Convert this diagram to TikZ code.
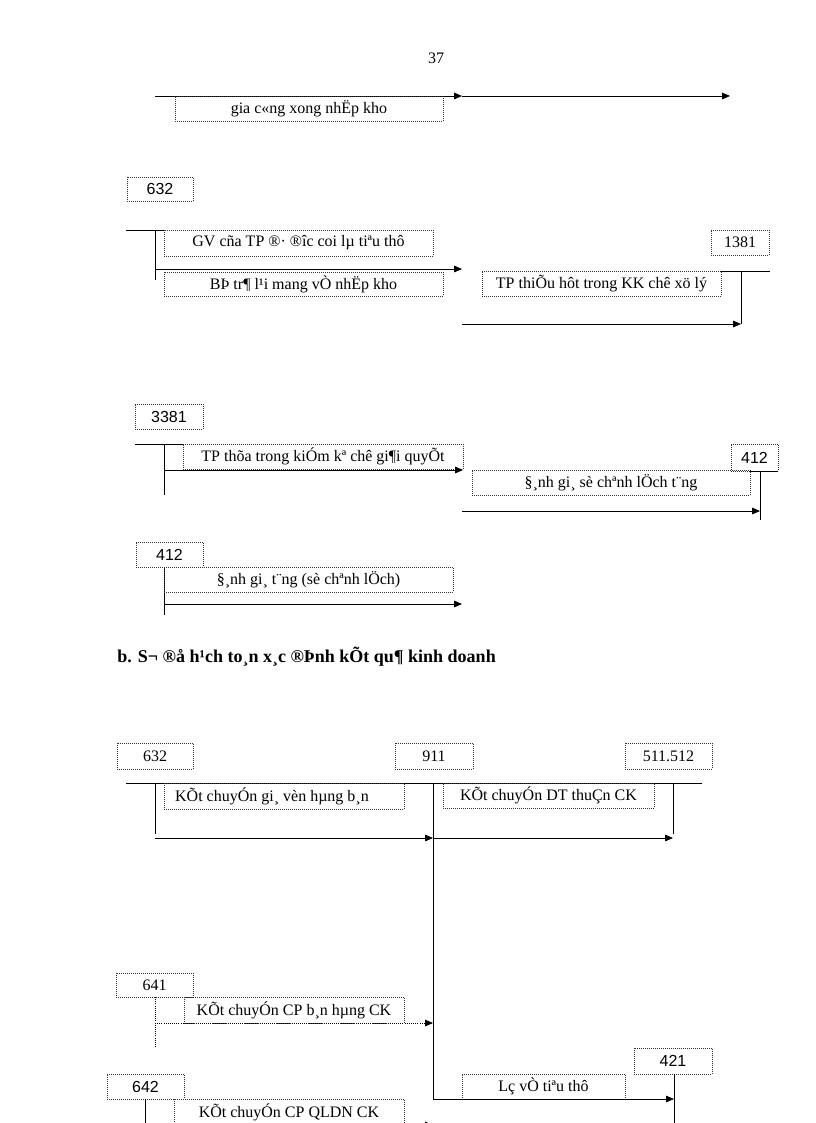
\documentclass[tikz,border=0pt]{standalone}
\usepackage{fontspec}
\setmainfont{Liberation Serif}
\newfontfamily\arialf{Liberation Sans}
\usetikzlibrary{arrows.meta}

\begin{document}
\begin{tikzpicture}[x=0.75pt,y=-0.75pt,line width=0.6pt,
    every node/.style={font=\fontsize{12}{14}\selectfont,inner sep=0pt},
    box/.style 2 args={draw=black!80,densely dotted,line width=0.5pt,
      minimum width=#1*0.75pt,minimum height=#2*0.75pt},
    arr/.style={-{Triangle[length=6pt,width=5pt]}},
    num/.style={font=\arialf\fontsize{12}{14}\selectfont}]
  \useasboundingbox (0,0) rectangle (816,1123);
  \clip (0,0) rectangle (816,1123);
  \node (page) at (436,58) {37};

  % thanh pham nhap kho
  \coordinate (t1) at (155,96);
  \coordinate (t2) at (462,96);
  \coordinate (t3) at (730,96);
  \draw[arr] (t1) -- (t2);
  \draw[arr] (t2) -- (t3);
  \node[box={268}{25}] (gcxong) at (309,108.5) {gia c«ng xong nhËp kho};

  % 632 - 1381
  \node[box={66}{24},num] (tk632a) at (160,189) {632};
  \draw (126,230) -- (164,230);
  \draw (155,230) -- (155,280);
  \node[box={269}{26}] (gvtp) at (298.5,243) {GV cña TP ®· ®îc coi lµ tiªu thô};
  \coordinate (a632) at (155,269);
  \coordinate (e632) at (462,269);
  \draw[arr] (a632) -- (e632);
  \node[box={279}{24}] (btl) at (303.5,284) {BÞ tr¶ l¹i mang vÒ nhËp kho};
  \node[box={58}{25}] (tk1381) at (740,242.5) {1381};
  \draw (721,271) -- (770,271);
  \draw (741,271) -- (741,324);
  \node[box={239}{25}] (tpthieu) at (601.5,283.5) {TP thiÕu hôt trong KK chê xö lý};
  \coordinate (a1381) at (462,324);
  \coordinate (e1381) at (741,324);
  \draw[arr] (a1381) -- (e1381);

  % 3381 - 412
  \node[box={68}{25},num] (tk3381) at (169,416.5) {3381};
  \draw (135,444) -- (183,444);
  \draw (164,444) -- (164,495);
  \node[box={280}{25}] (tpthua) at (323,456.5) {TP thõa trong kiÓm kª chê gi¶i quyÕt};
  \coordinate (a3381) at (164,470);
  \coordinate (e3381) at (463,470);
  \draw[arr] (a3381) -- (e3381);
  \node[box={47}{27},num] (tk412a) at (754.5,457.5) {412};
  \draw (750,471) -- (778,471);
  \draw (760,471) -- (760,520);
  \node[box={278}{25}] (dgsc) at (611,482.5) {§¸nh gi¸ sè chªnh lÖch t¨ng};
  \coordinate (a412) at (462,511);
  \coordinate (e412) at (760,511);
  \draw[arr] (a412) -- (e412);

  % 412
  \node[box={67}{25},num] (tk412b) at (169.5,554.5) {412};
  \draw (164,567) -- (164,615);
  \node[box={289}{25}] (dgt) at (308.5,579.5) {§¸nh gi¸ t¨ng (sè chªnh lÖch)};
  \coordinate (b412) at (164,604);
  \coordinate (f412) at (462,604);
  \draw[arr] (b412) -- (f412);

  \node[anchor=west,font=\bfseries\fontsize{13.5}{16}\selectfont] (title) at (117,657)
    {b. S¬ ®å h¹ch to¸n x¸c ®Þnh kÕt qu¶ kinh doanh};

  % xac dinh ket qua
  \node[box={76}{26}] (tk632) at (155,756) {632};
  \node[box={78}{26}] (tk911) at (434,756) {911};
  \node[box={87}{26}] (tk511) at (668.5,756) {511.512};
  \draw (126,783) -- (702,783);
  \draw (155,783) -- (155,834);
  \draw (433,783) -- (433,1099);
  \draw (673,783) -- (673,834);
  \node[box={240}{26}] (kcgv) at (284,796) {KÕt chuyÓn gi¸ vèn hµng b¸n\hspace*{18pt}};
  \node[box={211}{25}] (kcdt) at (548.5,795.5) {KÕt chuyÓn DT thuÇn CK};
  \coordinate (c632) at (155,838);
  \coordinate (c911) at (433,838);
  \coordinate (c511) at (673,838);
  \draw[arr] (c632) -- (c911);
  \draw[arr] (c911) -- (c511);

  \node[box={77}{24}] (tk641) at (154.5,985) {641};
  \draw[densely dotted] (155,997) -- (155,1048);
  \node[box={220}{26}] (kcbh) at (294,1010) {KÕt chuyÓn CP b¸n hµng CK};
  \coordinate (c641) at (155,1023);
  \coordinate (d911) at (433,1023);
  \draw[arr,densely dotted] (c641) -- (d911);

  \node[box={78}{26},num] (tk421) at (673,1061) {421};
  \draw (674,1074) -- (674,1130);
  \node[box={163}{25}] (lo) at (543.5,1086.5) {Lç vÒ tiªu thô};
  \coordinate (e911) at (433,1099);
  \coordinate (c421) at (674,1099);
  \draw[arr] (e911) -- (c421);

  \node[box={77}{25},num] (tk642) at (145.5,1086.5) {642};
  \draw (145,1099) -- (145,1130);
  \node[box={230}{26}] (kcql) at (289,1112) {KÕt chuyÓn CP QLDN CK};
  \coordinate (c642) at (145,1125);
  \coordinate (f911) at (433,1125);
  \draw[arr] (c642) -- (f911);
\end{tikzpicture}
\end{document}
